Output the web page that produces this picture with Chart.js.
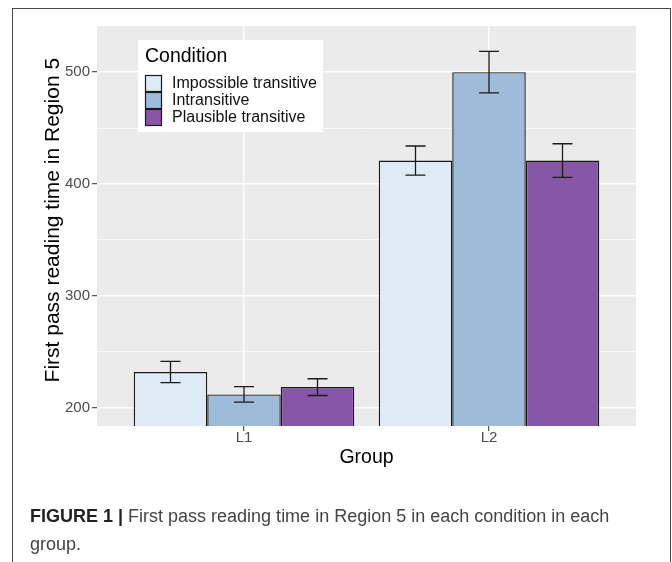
<!DOCTYPE html>
<html>
<head>
<meta charset="utf-8">
<script src="https://cdn.jsdelivr.net/npm/chart.js@4"></script>
<style>
  html, body { margin: 0; padding: 0; background: #fff; }
  body { width: 672px; height: 562px; position: relative; overflow: hidden; }
  #chart { position: absolute; left: 0; top: 0; }
  #frame {
    position: absolute; left: 12px; top: 8px; width: 658.5px; height: 620px;
    border: 1.5px solid #4a4a4a; box-sizing: border-box; pointer-events: none;
  }
  #caption {
    position: absolute; left: 30px; top: 501.5px; width: 610px;
    font-family: "Liberation Sans", Arial, sans-serif; font-size: 18px; line-height: 28px;
    color: #444;
  }
  #caption b { color: #222; }
</style>
</head>
<body>
<canvas id="chart" width="672" height="490"></canvas>
<div id="frame"></div>
<div id="caption"><b>FIGURE 1 |</b> First pass reading time in Region 5 in each condition in each group.</div>
<script>
    // --- Data ---
    const groups = ['L1', 'L2'];
    const conditions = ['Impossible transitive', 'Intransitive', 'Plausible transitive'];
    const impossible = [232, 421];
    const intransitive = [212, 500];
    const plausible = [218.5, 421];
    const impossibleErr = [9.5, 13];
    const intransitiveErr = [7, 18.5];
    const plausibleErr = [7.5, 15];
    const yTicks = [200, 300, 400, 500];
    const yMinorTicks = [250, 350, 450];

    const colors = ['#deebf7', '#9ebcda', '#8856a7'];
    const FONT = '"Liberation Sans", Arial, sans-serif';

    const series = [impossible, intransitive, plausible];
    const errors = [impossibleErr, intransitiveErr, plausibleErr];

    // grey panel behind the plot
    const panelBackground = {
        id: 'panelBackground',
        beforeDraw(chart) {
            const { ctx, chartArea: a } = chart;
            ctx.save();
            ctx.fillStyle = '#ebebeb';
            ctx.fillRect(a.left, a.top, a.right - a.left, a.bottom - a.top);
            ctx.restore();
        }
    };

    // error bars, positioned by the bars and the y scale
    const errorBars = {
        id: 'errorBars',
        afterDatasetsDraw(chart) {
            const { ctx } = chart;
            const y = chart.scales.y;
            ctx.save();
            ctx.strokeStyle = '#1a1a1a';
            ctx.lineWidth = 1.3;
            chart.data.datasets.forEach((ds, i) => {
                const meta = chart.getDatasetMeta(i);
                meta.data.forEach((bar, j) => {
                    const v = ds.data[j].y;
                    const e = errors[i][j];
                    const top = y.getPixelForValue(v + e);
                    const bot = y.getPixelForValue(v - e);
                    const half = 10;
                    ctx.beginPath();
                    ctx.moveTo(bar.x, top); ctx.lineTo(bar.x, bot);
                    ctx.moveTo(bar.x - half, top); ctx.lineTo(bar.x + half, top);
                    ctx.moveTo(bar.x - half, bot); ctx.lineTo(bar.x + half, bot);
                    ctx.stroke();
                });
            });
            ctx.restore();
        }
    };

    // ggplot-style legend inside the panel
    const insideLegend = {
        id: 'insideLegend',
        afterDraw(chart) {
            const { ctx } = chart;
            const x0 = 138, y0 = 40, w = 185, h = 92;
            ctx.save();
            ctx.fillStyle = '#ffffff';
            ctx.fillRect(x0, y0, w, h);
            ctx.fillStyle = '#000';
            ctx.textBaseline = 'middle';
            ctx.textAlign = 'left';
            ctx.font = '19.5px ' + FONT;
            ctx.fillText('Condition', 145, 57);
            ctx.font = '16px ' + FONT;
            chart.data.datasets.forEach((ds, i) => {
                const ky = 75 + i * 17;
                ctx.fillStyle = ds.backgroundColor;
                ctx.fillRect(145, ky, 17, 17);
                ctx.strokeStyle = '#1a1a1a';
                ctx.lineWidth = 1.2;
                ctx.strokeRect(145.5, ky + 0.5, 16, 16);
                ctx.fillStyle = '#111';
                ctx.fillText(ds.label, 172, ky + 9);
            });
            ctx.restore();
        }
    };

    const ctx = document.getElementById('chart').getContext('2d');
    new Chart(ctx, {
        type: 'bar',
        data: {
            datasets: conditions.map((label, i) => ({
                label: label,
                data: groups.map((g, j) => ({ x: j + 1, y: series[i][j] })),
                backgroundColor: colors[i],
                borderColor: '#1a1a1a',
                borderWidth: 1.4,
                borderSkipped: false,
                categoryPercentage: 0.9,
                barPercentage: 1
            }))
        },
        options: {
            responsive: false,
            animation: false,
            layout: { padding: { left: 0, right: 36, top: 26, bottom: 0 } },
            plugins: {
                legend: { display: false },
                tooltip: { enabled: false }
            },
            scales: {
                x: {
                    type: 'linear',
                    min: 0.4,
                    max: 2.6,
                    offset: false,
                    afterBuildTicks: (scale) => {
                        scale.ticks = groups.map((g, j) => ({ value: j + 1 }));
                    },
                    afterFit: (scale) => { scale.height = 64; },
                    border: { display: false },
                    grid: {
                        offset: false,
                        color: '#ffffff',
                        lineWidth: 1.4,
                        tickColor: '#333333',
                        tickWidth: 1,
                        tickLength: 5
                    },
                    ticks: {
                        autoSkip: false,
                        maxRotation: 0,
                        padding: -1,
                        color: '#4d4d4d',
                        font: { family: FONT, size: 15, lineHeight: 1 },
                        callback: (v) => groups[Math.round(v) - 1]
                    },
                    title: {
                        display: true,
                        text: 'Group',
                        color: '#000',
                        font: { family: FONT, size: 19.5 },
                        padding: { top: 0, bottom: 21 }
                    }
                },
                y: {
                    min: 183.75,
                    max: 541.25,
                    afterBuildTicks: (scale) => {
                        scale.ticks = [...yTicks, ...yMinorTicks].sort((a, b) => a - b).map(v => ({ value: v }));
                    },
                    afterFit: (scale) => { scale.width = 97; },
                    border: { display: false },
                    grid: {
                        color: '#ffffff',
                        lineWidth: (c) => yTicks.includes(c.tick.value) ? 1.4 : 0.7,
                        tickColor: (c) => yTicks.includes(c.tick.value) ? '#333333' : 'rgba(0,0,0,0)',
                        tickWidth: 1,
                        tickLength: 5
                    },
                    ticks: {
                        autoSkip: false,
                        padding: 2,
                        color: '#4d4d4d',
                        font: { family: FONT, size: 15 },
                        callback: (v) => yTicks.includes(v) ? String(v) : ''
                    },
                    title: {
                        display: true,
                        text: '  First pass reading time in Region 5',
                        color: '#000',
                        font: { family: FONT, size: 21 },
                        padding: { top: 41, bottom: 0 }
                    }
                }
            }
        },
        plugins: [panelBackground, errorBars, insideLegend]
    });
</script>
</body>
</html>
